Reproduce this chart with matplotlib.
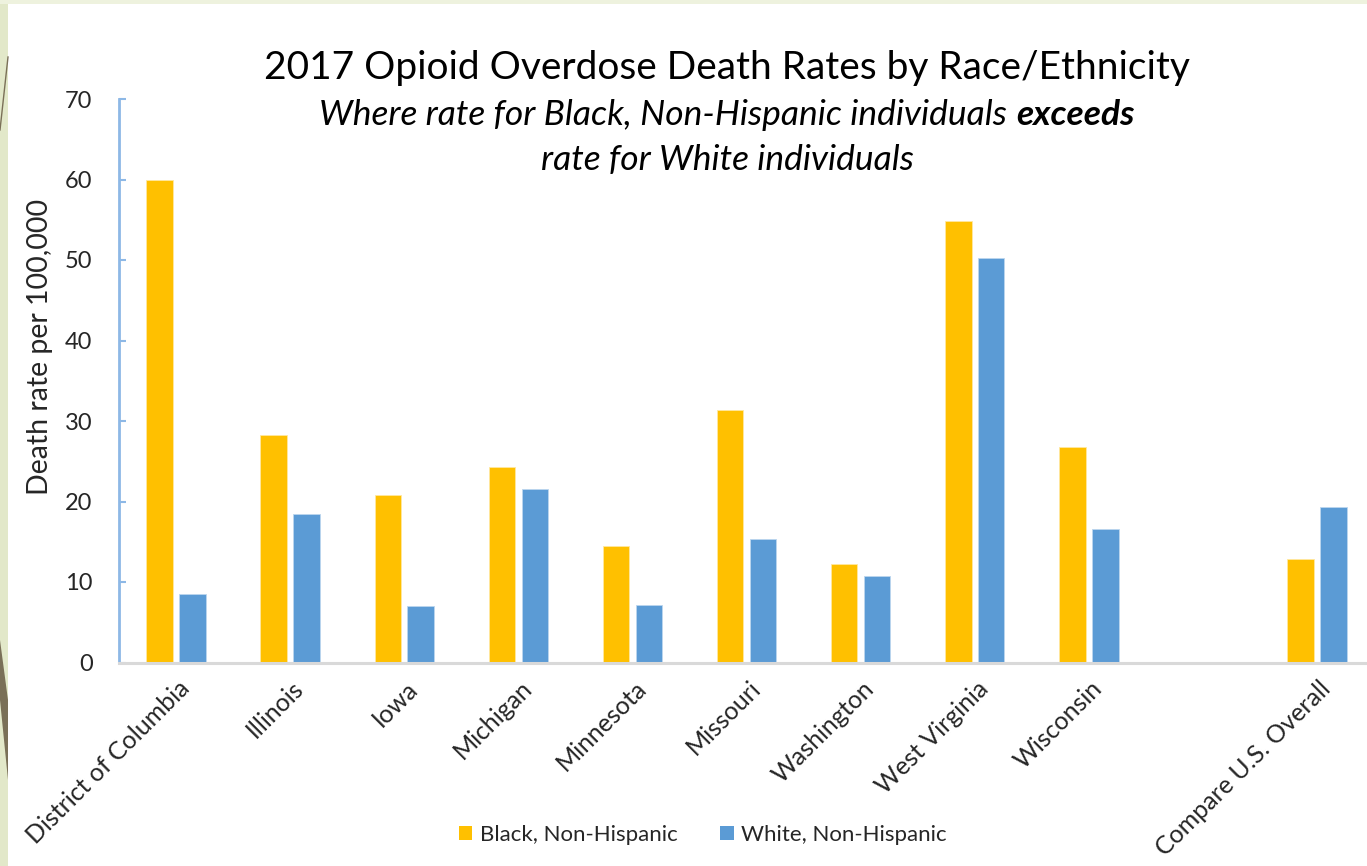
"""
2017 opioid overdose death rates by race/ethnicity, grouped bar chart.
"""
import matplotlib
matplotlib.use("Agg")
import matplotlib.pyplot as plt
import numpy as np
from matplotlib.patches import Rectangle, Polygon, Patch
from matplotlib.transforms import ScaledTranslation

# data
categories = ["District of Columbia", "Illinois", "Iowa", "Michigan", "Minnesota",
              "Missouri", "Washington", "West Virginia", "Wisconsin", "Compare U.S. Overall"]
black_nh = [60.0, 28.2, 20.8, 24.3, 14.5, 31.4, 12.2, 54.9, 26.8, 12.8]
white_nh = [8.5, 18.5, 7.0, 21.6, 7.2, 15.4, 10.8, 50.3, 16.6, 19.3]
series_names = ["Black, Non-Hispanic", "White, Non-Hispanic"]
yticks = [0, 10, 20, 30, 40, 50, 60, 70]

C_BLACK = "#FFC000"
C_WHITE = "#5B9BD5"
TXT = "#262626"
FONT = "Lato"

W, H = 1367, 866
fig = plt.figure(figsize=(W / 100, H / 100), dpi=100)
plt.rcParams["font.family"] = [FONT, "DejaVu Sans"]

# slide frame (light green strips + olive wedge on the left)
fig.patches.append(Rectangle((0, 0), 8 / W, 1, transform=fig.transFigure,
                             facecolor="#e2e8c9", edgecolor="none", zorder=0))
fig.patches.append(Rectangle((0, 1 - 4 / H), 1, 4 / H, transform=fig.transFigure,
                             facecolor="#eef2de", edgecolor="none", zorder=0))
fig.patches.append(Polygon([(0, 1 - 640 / H), (8 / W, 1 - 700 / H), (8 / W, 1 - 780 / H),
                            (0, 1 - 700 / H)], closed=True, transform=fig.transFigure,
                           facecolor="#7a7058", edgecolor="none", zorder=0))
fig.lines.append(plt.Line2D([0, 8 / W], [1 - 130 / H, 1 - 57 / H], transform=fig.transFigure,
                            color="#7a7058", linewidth=1.0))

# axes in pixel terms: left 119, right edge of image, 0 at y=662.5, 70 at y=99
slot = 114.1
ax = fig.add_axes([119 / W, (H - 662.5) / H, (W - 119) / W, (662.5 - 99) / H])
ax.set_facecolor("none")

x = np.arange(len(categories), dtype=float)
x[-1] += 1  # empty slot before the U.S. comparison group
bw = 0.232
gap = 0.056
off = (bw + gap) / 2
ax.bar(x - off, black_nh, bw, color=C_BLACK, edgecolor="#ffe8a0", linewidth=0.6,
       label=series_names[0], zorder=2)
ax.bar(x + off, white_nh, bw, color=C_WHITE, edgecolor="#bcd6ee", linewidth=0.6,
       label=series_names[1], zorder=2)

ax.set_xlim(-0.5, -0.5 + (W - 119) / slot)
ax.set_ylim(0, 70)
ax.set_yticks(yticks)
ax.tick_params(axis="y", direction="in", length=5, width=1.5, color="#8DB8E6",
               labelsize=17, labelcolor=TXT, pad=19)
ax.set_xticks(x)
ax.set_xticklabels(categories, rotation=45, ha="right", va="center",
                   rotation_mode="anchor", fontsize=18, color=TXT)
ax.tick_params(axis="x", length=0, pad=16)
shift = ScaledTranslation(7 / 72, 0, fig.dpi_scale_trans)
for lab in ax.get_xticklabels():
    lab.set_transform(lab.get_transform() + shift)

for s in ["top", "right"]:
    ax.spines[s].set_visible(False)
ax.spines["left"].set_color("#8DB8E6")
ax.spines["left"].set_linewidth(2)
ax.spines["bottom"].set_color("#D9D9D9")
ax.spines["bottom"].set_linewidth(2.2)

fig.text(40 / W, 1 - 347 / H, "Death rate per 100,000", rotation=90, ha="center",
         va="center", fontsize=20.5, color=TXT)

# titles
fig.text(727 / W, 1 - 68 / H, "2017 Opioid Overdose Death Rates by Race/Ethnicity",
         ha="center", va="center", fontsize=28, color="black")

fig.canvas.draw()
r = fig.canvas.get_renderer()
sub_fs = 25.5
sub_y = 1 - 115 / H
t1 = fig.text(0, sub_y, "Where rate for Black, Non-Hispanic individuals", style="italic",
              ha="left", va="center", fontsize=sub_fs, color="black")
t2 = fig.text(0, sub_y, "exceeds", style="italic", weight="bold",
              ha="left", va="center", fontsize=sub_fs, color="black")
w1 = t1.get_window_extent(r).width
w2 = t2.get_window_extent(r).width
sp = sub_fs * 100 / 72 * 0.25
x0 = 727 - (w1 + sp + w2) / 2
t1.set_x(x0 / W)
t2.set_x((x0 + w1 + sp) / W)
fig.text(727 / W, 1 - 160 / H, "rate for White individuals", style="italic",
         ha="center", va="center", fontsize=sub_fs, color="black")

handles = [Patch(facecolor=C_BLACK, edgecolor="none"), Patch(facecolor=C_WHITE, edgecolor="none")]
fig.legend(handles, series_names, loc="center", bbox_to_anchor=(703 / W, 1 - 835 / H),
           ncol=2, frameon=False, fontsize=16, handlelength=0.6, handleheight=0.6,
           handletextpad=0.35, columnspacing=1.9, labelcolor=TXT)

fig.savefig("out.png", dpi=100, facecolor="white")
plt.close(fig)
